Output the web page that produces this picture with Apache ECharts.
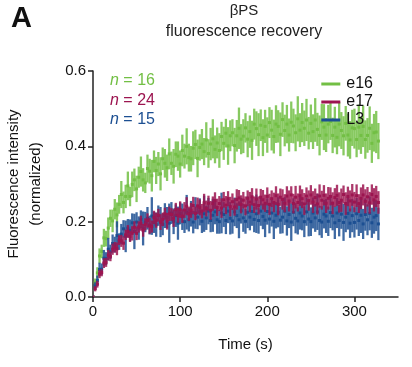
<!DOCTYPE html>
<html>
<head>
<meta charset="utf-8">
<script src="https://cdn.jsdelivr.net/npm/echarts@6/dist/echarts.min.js"></script>
<style>
html, body { margin: 0; padding: 0; background: #fff; }
#chart { width: 412px; height: 367px; }
</style>
</head>
<body>
<div id="chart"></div>
<script>
// frames were taken every 2.5 s, first frame at t = 0
var sampleStep = 2.5;

var seriesNames = ['e16', 'e17', 'L3'];
var nCounts = [16, 24, 15];
var xTicks = [0, 100, 200, 300];

// mean normalized intensity, one value per frame
var e16Mean = [
  0.000, 0.039, 0.064, 0.109, 0.121, 0.157, 0.155, 0.183, 0.209, 0.202,
  0.233, 0.218, 0.246, 0.272, 0.251, 0.267, 0.295, 0.267, 0.299, 0.311,
  0.287, 0.318, 0.333, 0.311, 0.303, 0.341, 0.334, 0.322, 0.360, 0.336,
  0.353, 0.327, 0.367, 0.355, 0.343, 0.380, 0.355, 0.347, 0.379, 0.374,
  0.353, 0.389, 0.374, 0.400, 0.370, 0.367, 0.395, 0.405, 0.368, 0.397,
  0.406, 0.386, 0.417, 0.381, 0.406, 0.420, 0.392, 0.409, 0.389, 0.426,
  0.408, 0.435, 0.401, 0.428, 0.436, 0.402, 0.428, 0.448, 0.419, 0.427,
  0.449, 0.419, 0.439, 0.416, 0.459, 0.447, 0.431, 0.456, 0.423, 0.453,
  0.430, 0.463, 0.443, 0.426, 0.459, 0.453, 0.432, 0.471, 0.442, 0.459,
  0.430, 0.464, 0.454, 0.436, 0.473, 0.443, 0.463, 0.448, 0.470, 0.435,
  0.461, 0.439, 0.470, 0.445, 0.429, 0.465, 0.451, 0.430, 0.459, 0.466,
  0.429, 0.451, 0.424, 0.459, 0.442, 0.428, 0.461, 0.430, 0.417, 0.449,
  0.447, 0.418, 0.451, 0.429, 0.453, 0.418, 0.429, 0.448, 0.408, 0.436,
  0.438, 0.414
];
var e16Err = [
  0.004, 0.010, 0.015, 0.020, 0.018, 0.024, 0.021, 0.028, 0.023, 0.030,
  0.027, 0.033, 0.025, 0.036, 0.029, 0.031, 0.038, 0.026, 0.034, 0.030,
  0.035, 0.028, 0.040, 0.031, 0.027, 0.037, 0.033, 0.042, 0.029, 0.036,
  0.032, 0.044, 0.030, 0.038, 0.035, 0.041, 0.031, 0.046, 0.034, 0.039,
  0.036, 0.042, 0.033, 0.048, 0.037, 0.034, 0.045, 0.039, 0.050, 0.035,
  0.040, 0.036, 0.047, 0.038, 0.043, 0.052, 0.037, 0.041, 0.046, 0.039,
  0.044, 0.038, 0.050, 0.041, 0.036, 0.047, 0.042, 0.055, 0.040, 0.045,
  0.039, 0.048, 0.043, 0.052, 0.041, 0.046, 0.057, 0.042, 0.049, 0.044,
  0.047, 0.041, 0.054, 0.045, 0.050, 0.043, 0.058, 0.046, 0.042, 0.051,
  0.044, 0.055, 0.046, 0.049, 0.060, 0.045, 0.052, 0.047, 0.056, 0.043,
  0.050, 0.046, 0.058, 0.044, 0.053, 0.048, 0.061, 0.045, 0.051, 0.049,
  0.047, 0.054, 0.045, 0.059, 0.049, 0.052, 0.046, 0.057, 0.050, 0.048,
  0.053, 0.047, 0.060, 0.049, 0.055, 0.051, 0.046, 0.058, 0.052, 0.050,
  0.056, 0.048
];

var e17Mean = [
  0.000, 0.022, 0.034, 0.061, 0.065, 0.090, 0.092, 0.111, 0.108, 0.127,
  0.132, 0.128, 0.151, 0.149, 0.143, 0.165, 0.174, 0.161, 0.169, 0.185,
  0.169, 0.186, 0.196, 0.177, 0.193, 0.203, 0.189, 0.187, 0.211, 0.204,
  0.217, 0.199, 0.206, 0.221, 0.201, 0.221, 0.219, 0.209, 0.232, 0.217,
  0.232, 0.215, 0.231, 0.241, 0.221, 0.230, 0.243, 0.222, 0.242, 0.238,
  0.228, 0.250, 0.235, 0.249, 0.230, 0.248, 0.256, 0.238, 0.248, 0.236,
  0.258, 0.244, 0.261, 0.240, 0.253, 0.239, 0.259, 0.263, 0.246, 0.257,
  0.242, 0.262, 0.252, 0.266, 0.245, 0.260, 0.243, 0.265, 0.258, 0.249,
  0.267, 0.246, 0.261, 0.251, 0.269, 0.246, 0.265, 0.259, 0.249, 0.268,
  0.255, 0.271, 0.248, 0.265, 0.251, 0.269, 0.261, 0.247, 0.268, 0.256,
  0.271, 0.252, 0.264, 0.247, 0.268, 0.257, 0.270, 0.249, 0.262, 0.267,
  0.249, 0.264, 0.270, 0.251, 0.257, 0.272, 0.248, 0.267, 0.255, 0.271,
  0.252, 0.269, 0.248, 0.262, 0.271, 0.254, 0.266, 0.250, 0.272, 0.258,
  0.267, 0.251
];
var e17Err = [
  0.003, 0.007, 0.009, 0.011, 0.010, 0.013, 0.012, 0.014, 0.013, 0.015,
  0.014, 0.017, 0.013, 0.016, 0.018, 0.014, 0.017, 0.015, 0.019, 0.016,
  0.018, 0.015, 0.020, 0.017, 0.016, 0.019, 0.021, 0.016, 0.018, 0.020,
  0.017, 0.021, 0.018, 0.016, 0.022, 0.019, 0.017, 0.023, 0.018, 0.020,
  0.022, 0.018, 0.021, 0.024, 0.019, 0.020, 0.023, 0.018, 0.022, 0.021,
  0.019, 0.024, 0.021, 0.020, 0.025, 0.019, 0.022, 0.023, 0.020, 0.026,
  0.021, 0.024, 0.020, 0.026, 0.022, 0.023, 0.027, 0.021, 0.024, 0.022,
  0.025, 0.021, 0.027, 0.023, 0.022, 0.028, 0.024, 0.022, 0.026, 0.023,
  0.024, 0.028, 0.022, 0.026, 0.025, 0.029, 0.023, 0.027, 0.024, 0.026,
  0.028, 0.023, 0.026, 0.030, 0.024, 0.027, 0.025, 0.029, 0.023, 0.027,
  0.026, 0.029, 0.024, 0.028, 0.031, 0.025, 0.027, 0.026, 0.030, 0.024,
  0.029, 0.025, 0.028, 0.027, 0.031, 0.024, 0.030, 0.026, 0.028, 0.029,
  0.027, 0.030, 0.025, 0.029, 0.028, 0.032, 0.026, 0.029, 0.027, 0.031,
  0.028, 0.030
];

var l3Mean = [
  0.000, 0.029, 0.044, 0.073, 0.074, 0.103, 0.102, 0.127, 0.120, 0.142,
  0.139, 0.163, 0.147, 0.167, 0.181, 0.161, 0.183, 0.177, 0.197, 0.174,
  0.199, 0.183, 0.206, 0.182, 0.199, 0.209, 0.191, 0.215, 0.198, 0.192,
  0.216, 0.199, 0.193, 0.216, 0.211, 0.196, 0.223, 0.201, 0.216, 0.196,
  0.222, 0.213, 0.200, 0.225, 0.205, 0.221, 0.199, 0.223, 0.212, 0.226,
  0.201, 0.221, 0.210, 0.228, 0.203, 0.217, 0.226, 0.205, 0.200, 0.223,
  0.219, 0.203, 0.228, 0.209, 0.202, 0.226, 0.216, 0.205, 0.229, 0.210,
  0.201, 0.225, 0.212, 0.227, 0.206, 0.221, 0.203, 0.228, 0.214, 0.204,
  0.227, 0.207, 0.223, 0.201, 0.217, 0.225, 0.204, 0.212, 0.228, 0.202,
  0.219, 0.199, 0.225, 0.209, 0.202, 0.223, 0.215, 0.200, 0.226, 0.207,
  0.200, 0.223, 0.210, 0.226, 0.203, 0.199, 0.220, 0.215, 0.201, 0.224,
  0.215, 0.197, 0.223, 0.203, 0.220, 0.198, 0.212, 0.222, 0.196, 0.216,
  0.198, 0.221, 0.203, 0.217, 0.194, 0.219, 0.205, 0.222, 0.197, 0.212,
  0.216, 0.194
];
var l3Err = [
  0.004, 0.010, 0.013, 0.018, 0.015, 0.022, 0.017, 0.030, 0.019, 0.024,
  0.021, 0.038, 0.022, 0.027, 0.023, 0.042, 0.024, 0.029, 0.025, 0.047,
  0.026, 0.031, 0.024, 0.045, 0.027, 0.030, 0.025, 0.050, 0.028, 0.032,
  0.027, 0.040, 0.029, 0.033, 0.028, 0.052, 0.029, 0.034, 0.030, 0.044,
  0.029, 0.035, 0.030, 0.046, 0.031, 0.034, 0.030, 0.042, 0.032, 0.036,
  0.031, 0.048, 0.032, 0.035, 0.031, 0.044, 0.033, 0.037, 0.032, 0.054,
  0.033, 0.036, 0.032, 0.043, 0.034, 0.038, 0.033, 0.049, 0.034, 0.037,
  0.033, 0.042, 0.035, 0.038, 0.034, 0.051, 0.035, 0.039, 0.034, 0.045,
  0.035, 0.038, 0.036, 0.047, 0.035, 0.040, 0.036, 0.043, 0.037, 0.039,
  0.036, 0.050, 0.037, 0.040, 0.036, 0.044, 0.038, 0.041, 0.037, 0.046,
  0.038, 0.041, 0.037, 0.048, 0.039, 0.042, 0.038, 0.045, 0.039, 0.041,
  0.038, 0.043, 0.040, 0.042, 0.039, 0.049, 0.040, 0.043, 0.039, 0.044,
  0.040, 0.042, 0.041, 0.047, 0.040, 0.043, 0.041, 0.045, 0.040, 0.044,
  0.041, 0.043
];

var colors = ['#72bf44', '#9c1550', '#1c4f92'];
var fontFam = '"Liberation Sans", Arial, sans-serif';

var chartDom = document.getElementById('chart');
var myChart = echarts.init(chartDom);

function toPoints(mean, err) {
  var out = [];
  for (var i = 0; i < mean.length; i++) {
    out.push([i * sampleStep, mean[i], err[i]]);
  }
  return out;
}

// vertical error bar with a dot at the mean
function renderErr(params, api) {
  var t = api.value(0);
  var m = api.value(1);
  var e = api.value(2);
  var hi = api.coord([t, m + e]);
  var mid = api.coord([t, m]);
  var lo = api.coord([t, m - e]);
  var c = api.visual('color');
  return {
    type: 'group',
    children: [
      {
        type: 'line',
        shape: { x1: hi[0], y1: hi[1], x2: lo[0], y2: lo[1] },
        style: { stroke: c, lineWidth: 2.3, opacity: 0.85 }
      },
      {
        type: 'rect',
        shape: { x: mid[0] - 1.5, y: mid[1] - 1.5, width: 3, height: 3 },
        style: { fill: c }
      }
    ]
  };
}

var groups = [
  { name: 'e16', mean: e16Mean, err: e16Err, color: colors[0] },
  { name: 'L3', mean: l3Mean, err: l3Err, color: colors[2] },
  { name: 'e17', mean: e17Mean, err: e17Err, color: colors[1] }
];

var series = groups.map(function (g) {
  return {
    name: g.name,
    type: 'custom',
    renderItem: renderErr,
    data: toPoints(g.mean, g.err),
    encode: { x: 0, y: 1 },
    clip: true,
    itemStyle: { color: g.color }
  };
});

var nTexts = [];
for (var k = 0; k < nCounts.length; k++) {
  nTexts.push({
    type: 'text',
    left: 110,
    top: 73 + k * 19.5,
    style: {
      text: '{i|n} = ' + nCounts[k],
      fill: colors[k],
      fontSize: 16,
      fontFamily: fontFam,
      rich: { i: { fontStyle: 'italic', fill: colors[k], fontSize: 16, fontFamily: fontFam } }
    }
  });
}

option = {
  animation: false,
  grid: { left: 93, right: 14, top: 71, bottom: 70 },
  legend: {
    orient: 'vertical',
    right: 34,
    top: 71,
    itemWidth: 19,
    itemHeight: 3,
    itemGap: 2,
    icon: 'rect',
    data: seriesNames,
    textStyle: { fontSize: 16, fontFamily: fontFam, color: '#111', padding: [0, 0, 0, 1] }
  },
  xAxis: {
    type: 'value',
    min: 0,
    max: 350,
    interval: 100,
    axisLine: { lineStyle: { color: '#222', width: 1.5 } },
    axisTick: { length: 5, customValues: xTicks, lineStyle: { color: '#222', width: 1.5 } },
    axisLabel: { customValues: xTicks, margin: 7, fontSize: 15, fontFamily: fontFam, color: '#111' },
    splitLine: { show: false },
    name: 'Time (s)',
    nameLocation: 'middle',
    nameGap: 40,
    nameTextStyle: { fontSize: 15, fontFamily: fontFam, color: '#111' }
  },
  yAxis: {
    type: 'value',
    min: 0,
    max: 0.6,
    interval: 0.2,
    axisLine: { show: true, lineStyle: { color: '#222', width: 1.5 } },
    axisTick: { show: true, length: 5, lineStyle: { color: '#222', width: 1.5 } },
    axisLabel: {
      margin: 7, fontSize: 15, fontFamily: fontFam, color: '#111',
      formatter: function (v) { return v.toFixed(1); }
    },
    splitLine: { show: false }
  },
  graphic: [
    { type: 'text', left: 11, top: 4, style: { text: 'A', fontSize: 29, fontWeight: 'bold', fontFamily: fontFam, fill: '#111' } },
    { type: 'text', x: 244, y: 11, style: { text: '\u03b2PS', align: 'center', verticalAlign: 'middle', fontSize: 15, fontFamily: fontFam, fill: '#222' } },
    { type: 'text', x: 244, y: 32, style: { text: 'fluorescence recovery', align: 'center', verticalAlign: 'middle', fontSize: 16, fontFamily: fontFam, fill: '#222' } },
    {
      type: 'text', x: 25, y: 184, rotation: Math.PI / 2,
      style: {
        text: 'Fluorescence intensity\n(normalized)', align: 'center', verticalAlign: 'middle',
        lineHeight: 22, fontSize: 15, fontFamily: fontFam, fill: '#111'
      }
    }
  ].concat(nTexts),
  series: series
};

option && myChart.setOption(option);
</script>
</body>
</html>
